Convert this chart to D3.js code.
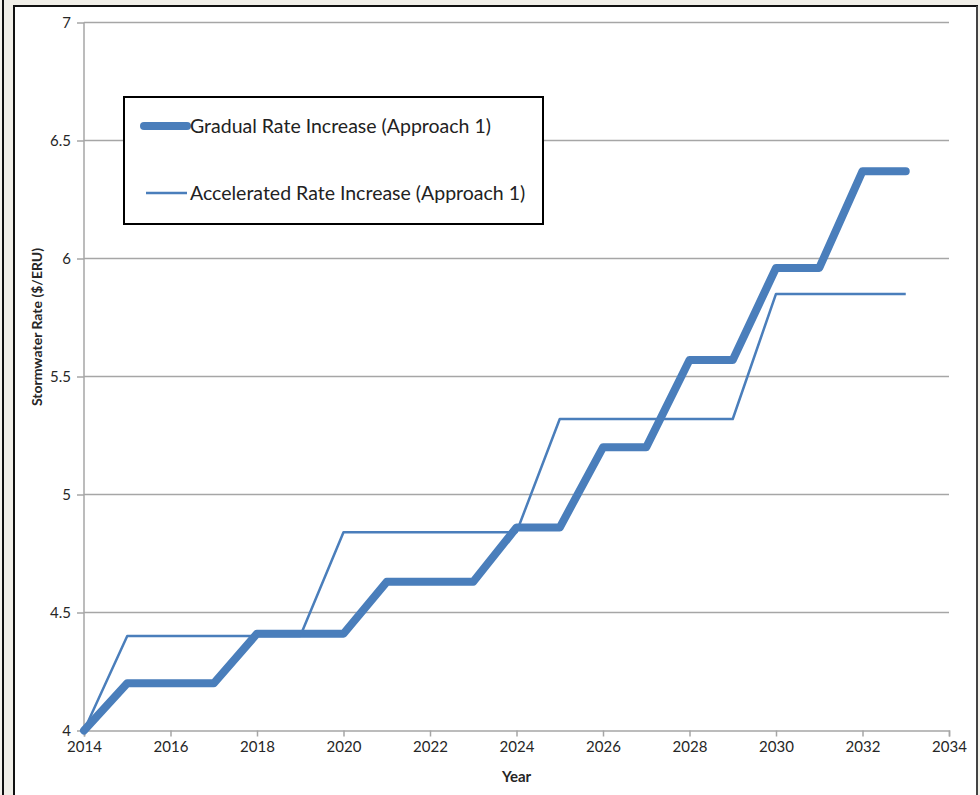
<!DOCTYPE html>
<head>
    <meta charset="utf-8">
    <title>Stormwater rate</title>
    <style>
        body { margin: 0; background: #f4f2ec; }
        svg { display: block; }
    </style>
</head>

<body>

<svg width="980" height="795"></svg>

<script src="https://d3js.org/d3.v7.min.js"></script>

<script>
    const years = [2014, 2015, 2016, 2017, 2018, 2019, 2020, 2021, 2022, 2023,
                   2024, 2025, 2026, 2027, 2028, 2029, 2030, 2031, 2032, 2033];
    const gradual = [4.00, 4.20, 4.20, 4.20, 4.41, 4.41, 4.41, 4.63, 4.63, 4.63,
                     4.86, 4.86, 5.20, 5.20, 5.57, 5.57, 5.96, 5.96, 6.37, 6.37];
    const accelerated = [4.00, 4.40, 4.40, 4.40, 4.40, 4.40, 4.84, 4.84, 4.84, 4.84,
                         4.84, 5.32, 5.32, 5.32, 5.32, 5.32, 5.85, 5.85, 5.85, 5.85];
    const xTicks = [2014, 2016, 2018, 2020, 2022, 2024, 2026, 2028, 2030, 2032, 2034];
    const yTicks = [4, 4.5, 5, 5.5, 6, 6.5, 7];
    const seriesNames = ["Gradual Rate Increase (Approach 1)", "Accelerated Rate Increase (Approach 1)"];

    const svg = d3.select("svg");
    const margin = { top: 22.5, right: 31, bottom: 64.5, left: 84 };
    const width = 980 - margin.left - margin.right;
    const height = 795 - margin.top - margin.bottom;
    const blue = "#4a7ebb";
    const grid = "#a6a6a6";
    const font = "Lato, 'Open Sans', sans-serif";

    // page frame
    svg.append("rect").attr("x", 3).attr("y", 0).attr("width", 977).attr("height", 795)
        .attr("fill", "#f1efe8");
    svg.append("line").attr("x1", 3).attr("x2", 3).attr("y1", 0).attr("y2", 795)
        .attr("stroke", "#111").attr("stroke-width", 2);
    svg.append("rect").attr("x", 14).attr("y", 6).attr("width", 963).attr("height", 800)
        .attr("fill", "#fff").attr("stroke", "#111").attr("stroke-width", 2);
    svg.append("line").attr("x1", 977).attr("x2", 977).attr("y1", 6).attr("y2", 795)
        .attr("stroke", "#555").attr("stroke-width", 1.5);

    const x = d3.scaleLinear().domain([2014, 2034]).range([0, width]);
    const y = d3.scaleLinear().domain([4, 7]).range([height, 0]);

    const g = svg.append("g")
        .attr("transform", `translate(${margin.left},${margin.top})`);

    // horizontal gridlines
    g.append("g")
        .selectAll("line")
        .data(yTicks.slice(1))
        .join("line")
        .attr("x1", 0).attr("x2", width)
        .attr("y1", d => y(d)).attr("y2", d => y(d))
        .attr("stroke", grid).attr("stroke-width", 1.5);

    function styleAxis(a) {
        a.selectAll("path, line").attr("stroke", grid).attr("stroke-width", 1.5);
        a.selectAll("text")
            .attr("font-family", null).attr("font-size", null)
            .style("font-family", font)
            .style("font-size", "15px")
            .style("fill", "#262626");
    }

    g.append("g")
        .attr("transform", `translate(0,${height})`)
        .call(d3.axisBottom(x).tickValues(xTicks).tickFormat(d3.format("d")).tickSize(6).tickPadding(5))
        .call(styleAxis);

    g.append("g")
        .call(d3.axisLeft(y).tickValues(yTicks).tickFormat(d => d).tickSize(7).tickPadding(6))
        .call(a => a.select(".domain").attr("d", `M0,0V${height}`))
        .call(styleAxis);

    const line = d3.line()
        .x(d => x(d[0]))
        .y(d => y(d[1]));

    g.append("path")
        .datum(d3.zip(years, accelerated))
        .attr("fill", "none")
        .attr("stroke", blue)
        .attr("stroke-width", 2.5)
        .attr("stroke-linejoin", "round")
        .attr("d", line);

    g.append("path")
        .datum(d3.zip(years, gradual))
        .attr("fill", "none")
        .attr("stroke", blue)
        .attr("stroke-width", 8)
        .attr("stroke-linejoin", "round")
        .attr("stroke-linecap", "round")
        .attr("d", line);

    // axis titles
    svg.append("text")
        .attr("x", margin.left + x(2024))
        .attr("y", 782)
        .attr("text-anchor", "middle")
        .style("font", `bold 15px ${font}`)
        .style("fill", "#262626")
        .text("Year");

    svg.append("text")
        .attr("transform", "translate(42,327) rotate(-90)")
        .attr("text-anchor", "middle")
        .style("font", `bold 14px ${font}`)
        .style("fill", "#262626")
        .text("Stormwater Rate ($/ERU)");

    // legend
    const legend = svg.append("g").attr("transform", "translate(124,97)");
    legend.append("rect")
        .attr("width", 419).attr("height", 127)
        .attr("fill", "#fff").attr("stroke", "#000").attr("stroke-width", 2);

    const items = legend.selectAll(".item")
        .data(seriesNames)
        .join("g")
        .attr("class", "item")
        .attr("transform", (d, i) => `translate(0,${i === 0 ? 29 : 96})`);

    items.append("line")
        .attr("x1", (d, i) => i === 0 ? 20 : 22).attr("x2", 63)
        .attr("stroke", blue)
        .attr("stroke-width", (d, i) => i === 0 ? 8 : 2.5)
        .attr("stroke-linecap", (d, i) => i === 0 ? "round" : "butt");

    items.append("text")
        .attr("x", 66)
        .attr("dy", "0.35em")
        .style("font", `19.5px ${font}`)
        .style("fill", "#222")
        .text(d => d);
</script>

</body>
